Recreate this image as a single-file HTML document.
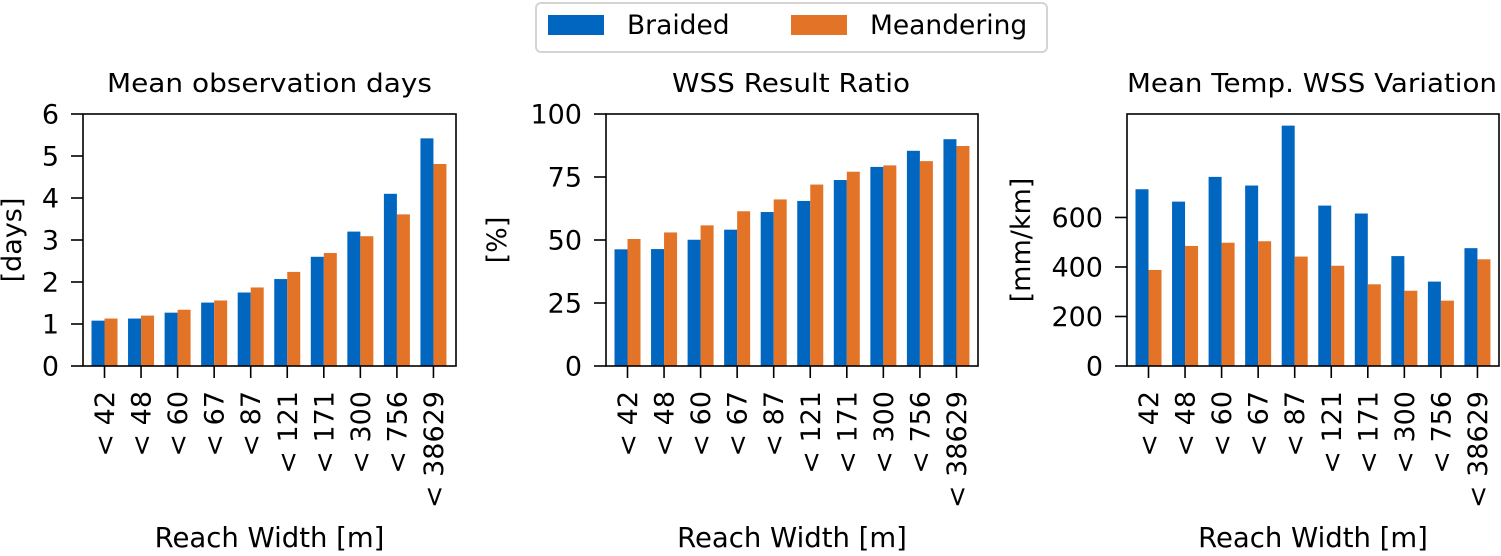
<!DOCTYPE html>
<html><head><meta charset="utf-8"><style>
html,body{margin:0;padding:0;background:#fff;}
svg text{font-family:"DejaVu Sans","Liberation Sans",sans-serif;fill:#000;}
</style></head><body>
<svg id="s" xmlns="http://www.w3.org/2000/svg" width="1501" height="551" viewBox="0 0 1501 551">
<rect x="536" y="3" width="511" height="49" rx="5" fill="#fff" stroke="#d4d4d4" stroke-width="2"/>
<rect x="548" y="15" width="56" height="20" fill="#0066bf"/>
<text x="627" y="34" font-size="26.5">Braided</text>
<rect x="791" y="15" width="56" height="20" fill="#e37326"/>
<text x="870" y="34" font-size="26.5">Meandering</text>
</svg>
<script>
(function(){
var s=document.getElementById('s'),NS='http://www.w3.org/2000/svg';
function el(t,a,txt){var e=document.createElementNS(NS,t);for(var k in a)e.setAttribute(k,a[k]);if(txt!==undefined)e.textContent=txt;s.appendChild(e);return e;}
var labels=['< 42','< 48','< 60','< 67','< 87','< 121','< 171','< 300','< 756','< 38629'];
var panels=[
{l:83,r:456,max:6,ticks:[0,1,2,3,4,5,6],title:'Mean observation days',tl:[107,432],yl:'[days]',ylx:21,
B:[1.08,1.13,1.27,1.51,1.75,2.07,2.6,3.2,4.1,5.42],M:[1.13,1.2,1.34,1.56,1.87,2.24,2.69,3.09,3.61,4.81]},
{l:606,r:978,max:100,ticks:[0,25,50,75,100],title:'WSS Result Ratio',tl:[672,910],yl:'[%]',ylx:506,
B:[46.3,46.4,50.1,54.1,61.1,65.5,73.8,79,85.4,90],M:[50.4,53,55.8,61.4,66.1,72,77.1,79.6,81.3,87.3]},
{l:1127,r:1499,max:1018,ticks:[0,200,400,600],title:'Mean Temp. WSS Variation',tl:[1127,1497],yl:'[mm/km]',ylx:1030,
B:[714,664,764,729,971,648,616,444,341,476],M:[388,485,498,504,442,405,330,304,264,431]}];
var T=114,Bt=366;
panels.forEach(function(p){
 var sc=(Bt-T)/p.max;
 for(var i=0;i<10;i++){
  var x=p.l+21.5+i*36.55;
  el('rect',{x:x-13,y:Bt-p.B[i]*sc,width:13,height:p.B[i]*sc,fill:'#0066bf'});
  el('rect',{x:x,y:Bt-p.M[i]*sc,width:13,height:p.M[i]*sc,fill:'#e37326'});
  el('line',{x1:x,x2:x,y1:Bt,y2:Bt+12,stroke:'#000','stroke-width':1.6});
  el('text',{x:0,y:0,'font-size':27,'text-anchor':'end',transform:'translate('+(x+9.5)+',391) rotate(-90)'},labels[i]);
 }
 el('rect',{x:p.l,y:T,width:p.r-p.l,height:Bt-T,fill:'none',stroke:'#000','stroke-width':1.6});
 p.ticks.forEach(function(t){var y=Bt-t*sc;
  el('line',{x1:p.l-12,x2:p.l,y1:y,y2:y,stroke:'#000','stroke-width':1.6});
  el('text',{x:p.l-24,y:y+9.5,'font-size':27,'text-anchor':'end'},String(t));});
 el('text',{x:p.tl[0],y:92,'font-size':26,textLength:p.tl[1]-p.tl[0],lengthAdjust:'spacingAndGlyphs'},p.title);
 var cx=(p.l+p.r)/2;
 el('text',{x:cx,y:547,'font-size':27.5,'text-anchor':'middle'},'Reach Width [m]');
 el('text',{x:0,y:0,'font-size':27,'text-anchor':'middle',transform:'translate('+p.ylx+','+(Bt+T)/2+') rotate(-90)'},p.yl);
});
})();
</script>
</body></html>
